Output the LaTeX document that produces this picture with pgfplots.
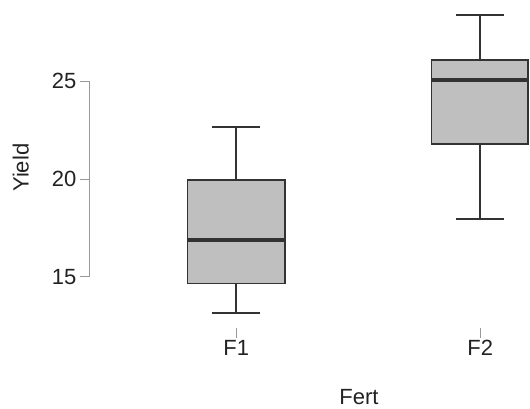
\documentclass[border=0pt]{standalone}
\usepackage{fontspec}
\setmainfont{Liberation Sans}
\usepackage{pgfplots}
\pgfplotsset{compat=1.18}
\definecolor{boxfill}{HTML}{BFBFBF}
\definecolor{boxedge}{HTML}{333333}
\definecolor{axgray}{HTML}{999999}
\definecolor{txt}{HTML}{222222}
\newcommand{\bigf}{\fontsize{22bp}{26bp}\selectfont}
\begin{document}
\begin{tikzpicture}
\begin{axis}[
  scale only axis,
  width=440bp, height=328bp,
  xmin=0.40, xmax=2.2037,
  ymin=12.38, ymax=29.14,
  clip=false,
  axis x line*=bottom, axis y line*=left,
  axis line style={draw=none},
  tick align=outside,
  major tick length=10bp,
  every tick/.style={axgray, line width=0.8pt},
  xtick={1,2}, xticklabels={F1,F2},
  ytick={15,20,25},
  /pgf/number format/assume math mode=true,
  tick label style={font=\bigf, text=txt},
  xticklabel style={anchor=center, yshift=-10bp},
  yticklabel style={anchor=east},
  xlabel={Fert}, ylabel={Yield},
  label style={font=\bigf, text=txt},
  xlabel style={at={(axis cs:1.503,12.38)}, anchor=center, yshift=-69bp},
  ylabel style={at={(axis cs:0.40,20.57)}, anchor=center, yshift=69bp},
  bx/.style={draw=boxedge, line width=1.8pt, mark=none, line join=miter},
  md/.style={draw=boxedge, line width=3.4pt, mark=none, line cap=butt},
]
\draw[axgray, line width=0.8pt] (axis cs:0.40,15) -- (axis cs:0.40,25);
% F1: whiskers 13.16 / 22.67, quartiles 14.66 / 19.93, median 16.88
\addplot[bx] coordinates {(1,19.93) (1,22.67)};
\addplot[bx] coordinates {(0.9015,22.67) (1.0985,22.67)};
\addplot[bx] coordinates {(1,14.66) (1,13.16)};
\addplot[bx] coordinates {(0.9015,13.16) (1.0985,13.16)};
\addplot[bx, fill=boxfill] coordinates {(0.8,14.66) (1.2,14.66) (1.2,19.93) (0.8,19.93) (0.8,14.66)} -- cycle;
\addplot[md] coordinates {(0.8,16.88) (1.2,16.88)};
% F2: whiskers 17.97 / 28.39, quartiles 21.77 / 26.07, median 25.05
\addplot[bx] coordinates {(2,26.07) (2,28.39)};
\addplot[bx] coordinates {(1.9015,28.39) (2.0985,28.39)};
\addplot[bx] coordinates {(2,21.77) (2,17.97)};
\addplot[bx] coordinates {(1.9015,17.97) (2.0985,17.97)};
\addplot[bx, fill=boxfill] coordinates {(1.8,21.77) (2.196,21.77) (2.196,26.07) (1.8,26.07) (1.8,21.77)} -- cycle;
\addplot[md] coordinates {(1.8,25.05) (2.196,25.05)};
\coordinate (bbll) at (axis cs:0.0316,8.29);
\coordinate (bbur) at (axis cs:2.2037,29.14);
\end{axis}
\pgfresetboundingbox
\useasboundingbox (bbll) rectangle (bbur);
\end{tikzpicture}
\end{document}
